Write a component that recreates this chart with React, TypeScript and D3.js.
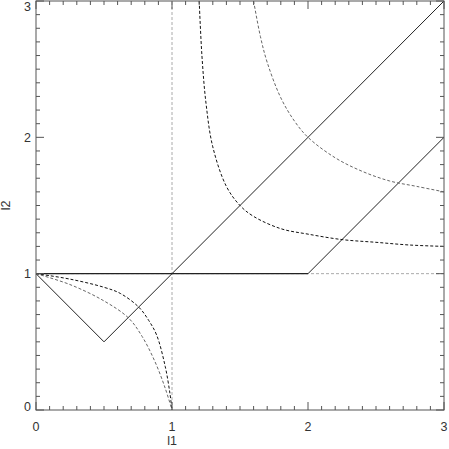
import React from "react";
import * as d3 from "d3";

const majorTicks = [0, 1, 2, 3];
const tickLabels = ["0", "1", "2", "3"];
const xTitle = "l1";
const yTitle = "l2";

// solid lines
const vLine: [number, number][] = [[0, 1], [0.5, 0.5], [3, 3]];
const kneeLine: [number, number][] = [[0, 1], [2, 1], [3, 2]];
// dotted reference lines
const refH: [number, number][] = [[0, 1], [3, 1]];
const refV: [number, number][] = [[1, 0], [1, 3]];

// dashed curves
const upperCurve: [number, number][] = [
  [1.6, 3.0], [1.65, 2.74], [1.7, 2.55], [1.8, 2.29], [1.9, 2.12], [2.0, 2.0],
  [2.2, 1.85], [2.4, 1.75], [2.6, 1.68], [2.8, 1.64], [3.0, 1.6],
];
const lowerCurve: [number, number][] = [
  [1.2, 3.0], [1.22, 2.6], [1.25, 2.25], [1.3, 1.93], [1.4, 1.64], [1.5, 1.5],
  [1.6, 1.42], [1.8, 1.33], [2.0, 1.29], [2.25, 1.25], [2.5, 1.23], [2.75, 1.21], [3.0, 1.2],
];
const outerArc: [number, number][] = [
  [0, 1], [0.25, 0.96], [0.5, 0.9], [0.62, 0.855], [0.757, 0.753], [0.83, 0.655],
  [0.887, 0.55], [0.95, 0.32], [0.985, 0.12], [1, 0],
];
const innerArc: [number, number][] = [
  [0, 1], [0.25, 0.92], [0.5, 0.8], [0.68, 0.675], [0.78, 0.54], [0.875, 0.354],
  [0.95, 0.16], [1, 0],
];

export default function App() {
  const W = 449, H = 449;
  const x = d3.scaleLinear().domain([0, 3]).range([36, 444]);
  const y = d3.scaleLinear().domain([0, 3]).range([410, 1]);
  const lin = d3.line<[number, number]>().x(d => x(d[0])).y(d => y(d[1]));
  const smooth = d3.line<[number, number]>().x(d => x(d[0])).y(d => y(d[1])).curve(d3.curveCatmullRom.alpha(0.5));

  const minor = d3.range(0, 30.001, 1).map(i => i / 10).filter(v => Math.abs(v - Math.round(v)) > 1e-6);
  const axisColor = "#555";
  const textColor = "#333";
  const font = "'Liberation Sans', Arial, sans-serif";

  const [x0, x1] = x.range();
  const [y0, y1] = y.range();

  const ticks: JSX.Element[] = [];
  const addTicks = (vals: number[], len: number, kind: string) => {
    vals.forEach((v, i) => {
      const px = x(v), py = y(v);
      ticks.push(<line key={`b${kind}${i}`} x1={px} x2={px} y1={y0} y2={y0 - len} stroke={axisColor} />);
      ticks.push(<line key={`t${kind}${i}`} x1={px} x2={px} y1={y1} y2={y1 + len} stroke={axisColor} />);
      ticks.push(<line key={`l${kind}${i}`} x1={x0} x2={x0 + len} y1={py} y2={py} stroke={axisColor} />);
      ticks.push(<line key={`r${kind}${i}`} x1={x1} x2={x1 - len} y1={py} y2={py} stroke={axisColor} />);
    });
  };
  addTicks(majorTicks, 8, "M");
  addTicks(minor, 4, "m");

  return (
    <svg width={W} height={H} style={{ position: "absolute", left: 0, top: 0, background: "#fff" }}>
      <defs>
        <clipPath id="plot">
          <rect x={x0} y={y1} width={x1 - x0} height={y0 - y1} />
        </clipPath>
      </defs>
      <g clipPath="url(#plot)" fill="none">
        <path d={lin(refH) || ""} stroke="#aaa" strokeWidth={1} strokeDasharray="3,2" />
        <path d={lin(refV) || ""} stroke="#aaa" strokeWidth={1} strokeDasharray="3,2" />
        <path d={lin(vLine) || ""} stroke="#222" strokeWidth={1} />
        <path d={lin([kneeLine[0], kneeLine[1]]) || ""} stroke="#222" strokeWidth={1.2} />
        <path d={lin([kneeLine[1], kneeLine[2]]) || ""} stroke="#222" strokeWidth={1} />
        <path d={smooth(upperCurve) || ""} stroke="#666" strokeWidth={1} strokeDasharray="3,2" />
        <path d={smooth(lowerCurve) || ""} stroke="#111" strokeWidth={1} strokeDasharray="3,2" />
        <path d={smooth(outerArc) || ""} stroke="#111" strokeWidth={1} strokeDasharray="3,2" />
        <path d={smooth(innerArc) || ""} stroke="#666" strokeWidth={1} strokeDasharray="3,2" />
      </g>
      <rect x={x0} y={y1} width={x1 - x0} height={y0 - y1} fill="none" stroke={axisColor} strokeWidth={1} />
      {ticks}
      <g fill={textColor} fontFamily={font} fontSize={12.5}>
        {majorTicks.map((v, i) => (
          <text key={`xl${i}`} x={x(v)} y={431} textAnchor="middle">{tickLabels[i]}</text>
        ))}
        {majorTicks.map((v, i) => (
          <text key={`yl${i}`} x={31} y={Math.min(Math.max(y(v), 6), 406) + 4.5} textAnchor="end">{tickLabels[i]}</text>
        ))}
        <text x={x(1)} y={445} textAnchor="middle">{xTitle}</text>
        <text transform={`translate(10,${y(1.5)}) rotate(-90)`} textAnchor="middle">{yTitle}</text>
      </g>
    </svg>
  );
}
